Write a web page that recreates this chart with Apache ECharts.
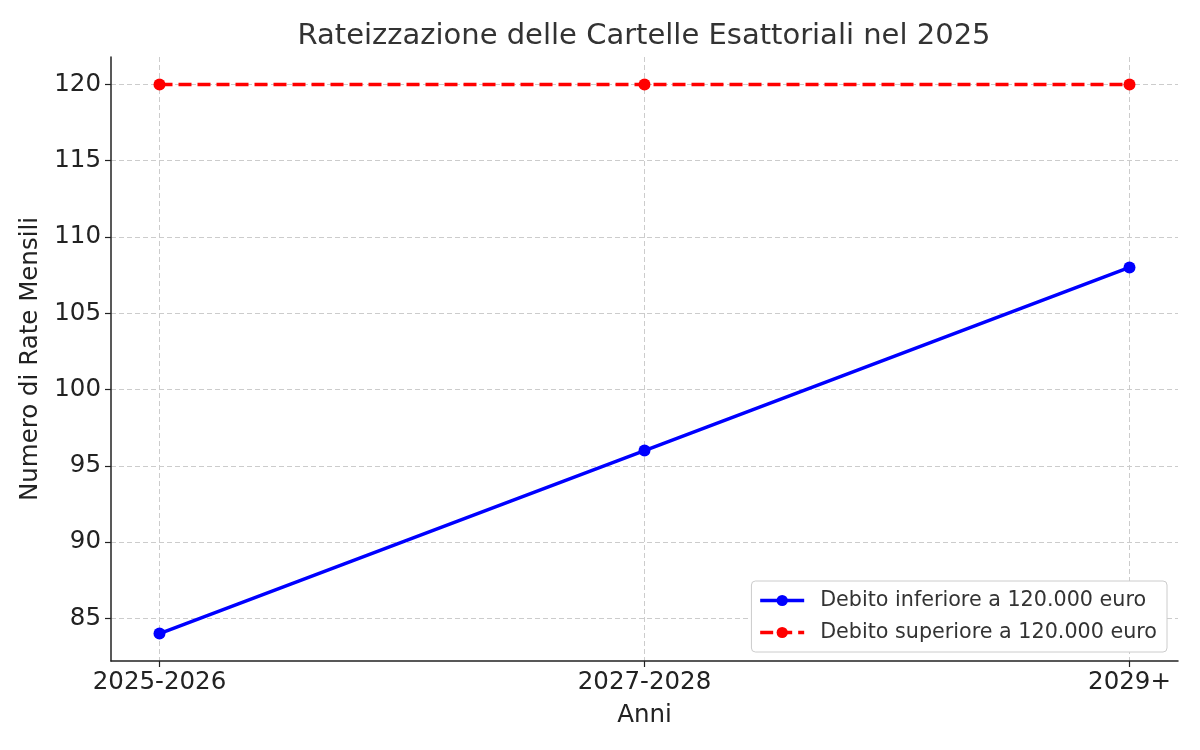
<!DOCTYPE html>
<html><head><meta charset="utf-8">
<script src="https://cdn.jsdelivr.net/npm/echarts@6/dist/echarts.min.js"></script>
<style>html,body{margin:0;padding:0;background:#fff}#c{width:1200px;height:750px}</style>
</head><body><div id="c"></div>
<script>
const categories = ['2025-2026', '2027-2028', '2029+'];
const seriesNames = ['Debito inferiore a 120.000 euro', 'Debito superiore a 120.000 euro'];
const lowDebt = [84, 96, 108];
const highDebt = [120, 120, 120];
const yTicks = [85, 90, 95, 100, 105, 110, 115, 120];

const font = 'DejaVu Sans';
const chart = echarts.init(document.getElementById('c'), null, {renderer: 'canvas'});
const toPairs = arr => arr.map((v, i) => [i, v]);
const xTicks = categories.map((_, i) => i);

chart.setOption({
  animation: false,
  title: {
    text: 'Rateizzazione delle Cartelle Esattoriali nel 2025',
    left: 639, top: 17, textAlign: 'center',
    textStyle: {fontFamily: font, fontSize: 29, fontWeight: 'normal', color: '#333'}
  },
  legend: {
    orient: 'vertical', right: 33, bottom: 98,
    padding: [9, 10, 9, 7], itemGap: 11,
    backgroundColor: '#fff', borderColor: '#ccc', borderWidth: 1, borderRadius: 4,
    itemWidth: 44, itemHeight: 14,
    lineStyle: {width: 3.5},
    textStyle: {fontFamily: font, fontSize: 20.7, color: '#333', padding: [0, 0, 0, 11]},
    data: [seriesNames[0], seriesNames[1]]
  },
  grid: {left: 111, right: 22, top: 57, bottom: 89, containLabel: false},
  xAxis: {
    type: 'value', min: -0.1, max: 2.1,
    name: 'Anni', nameLocation: 'middle', nameGap: 42,
    nameTextStyle: {fontFamily: font, fontSize: 24.5, color: '#222'},
    axisLine: {show: true, onZero: false, lineStyle: {color: '#222', width: 1.5}},
    axisTick: {show: true, length: 6, lineStyle: {color: '#222', width: 1.2}, customValues: xTicks},
    axisLabel: {
      customValues: xTicks, fontFamily: font, fontSize: 24.5, color: '#222', margin: 9,
      formatter: v => categories[Math.round(v)] || ''
    },
    splitLine: {show: true, lineStyle: {color: '#ccc', type: [5, 3], width: 1}}
  },
  yAxis: {
    type: 'value', min: 82.2, max: 121.8,
    name: 'Numero di Rate Mensili', nameLocation: 'middle', nameGap: 62, nameRotate: 90,
    nameTextStyle: {fontFamily: font, fontSize: 24.5, color: '#222'},
    axisLine: {show: true, onZero: false, lineStyle: {color: '#222', width: 1.5}},
    axisTick: {show: true, length: 6, lineStyle: {color: '#222', width: 1.2}, customValues: yTicks},
    axisLabel: {customValues: yTicks, fontFamily: font, fontSize: 24.5, color: '#222', margin: 10},
    splitLine: {show: true, lineStyle: {color: '#ccc', type: [5, 3], width: 1}}
  },
  series: [
    {
      name: seriesNames[0], type: 'line', data: toPairs(lowDebt),
      symbol: 'circle', symbolSize: 12,
      lineStyle: {color: '#0000ff', width: 3.5}, itemStyle: {color: '#0000ff'}
    },
    {
      name: seriesNames[1], type: 'line', data: toPairs(highDebt),
      symbol: 'circle', symbolSize: 12,
      lineStyle: {color: '#ff0000', width: 3.5, type: [13, 6]}, itemStyle: {color: '#ff0000'}
    }
  ]
});
</script></body></html>
